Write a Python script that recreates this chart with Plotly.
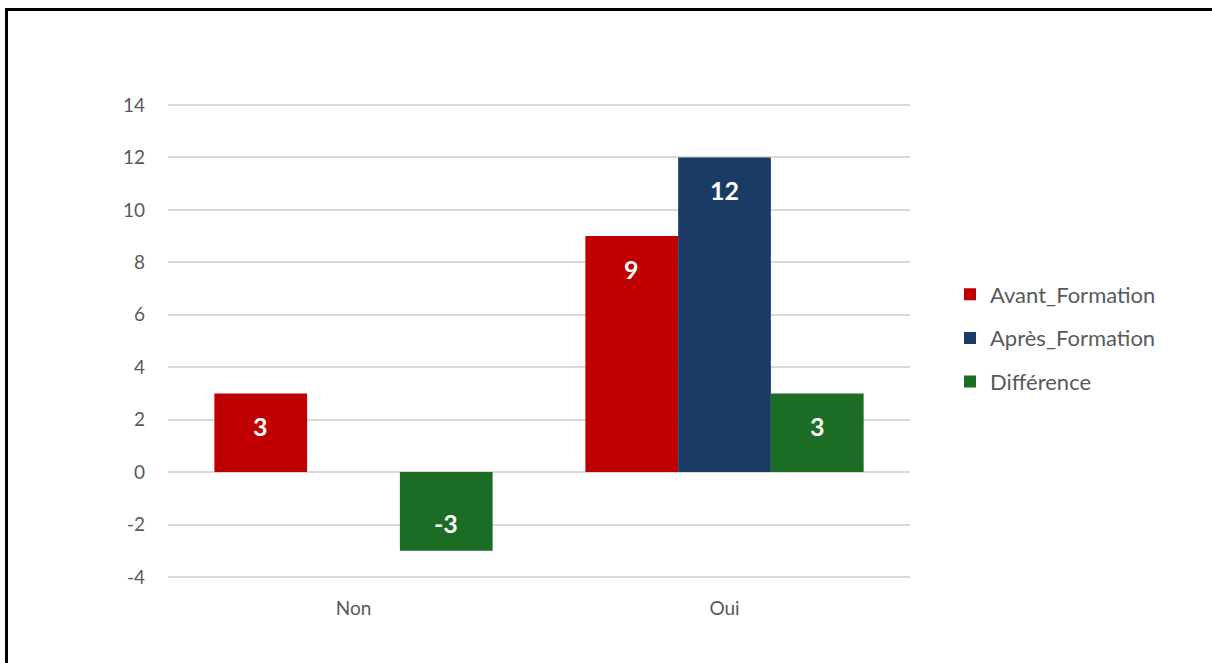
import plotly.graph_objects as go

categories = ["Non", "Oui"]
avant = [3, 9]
apres = [0, 12]
difference = [-3, 3]
y_ticks = [-4, -2, 0, 2, 4, 6, 8, 10, 12, 14]
y_tick_text = ["-4", "-2", "0", "2", "4", "6", "8", "10", "12", "14"]

W, H = 1212, 663
PAD = 2  # extra pixels above/below so the end gridlines are drawn
L, R, T, B = 168, 302, 105 - PAD, 86 - PAD
pw, ph = W - L - R, H - T - B
unit_px = (ph - 2 * PAD) / (y_ticks[-1] - y_ticks[0])
extra = PAD / unit_px


def px_x(p):
    return (p - L) / pw


def px_y(p):
    return (H - B - p) / ph


fig = go.Figure()
series = [
    ("Avant_Formation", avant, "#c00000"),
    ("Après_Formation", apres, "#1a3c64"),
    ("Différence", difference, "#1b6c25"),
]
bar_px = pw / len(categories) * 0.75 / len(series)
annotations = []
for i, (name, vals, col) in enumerate(series):
    fig.add_trace(go.Bar(
        x=categories, y=vals, name=name,
        marker=dict(color=col, line=dict(width=0)),
        legendgroup=f"g{i}",
    ))
    for c, v in zip(categories, vals):
        if v == 0:
            continue
        annotations.append(dict(
            x=c, y=v, xref="x", yref="y", text=f"<b>{v}</b>", showarrow=False,
            xshift=(i - 1) * bar_px, yshift=-33 if v > 0 else 28,
            font=dict(color="white", size=25, family="Lato, 'Open Sans', sans-serif"),
        ))

fig.update_layout(
    width=W, height=H,
    margin=dict(l=L, r=R, t=T, b=B),
    paper_bgcolor="white", plot_bgcolor="white",
    barmode="group", bargap=0.25, bargroupgap=0,
    font=dict(family="Lato, 'Open Sans', sans-serif", color="#595959", size=19),
    legend=dict(x=px_x(950), xanchor="left", y=px_y(338), yanchor="middle",
                font=dict(size=22, color="#595959"), tracegroupgap=12,
                bgcolor="rgba(0,0,0,0)"),
    xaxis=dict(showgrid=False, showline=False, ticks="", tickfont=dict(size=19),
               ticklabelstandoff=16),
    yaxis=dict(range=[y_ticks[0] - extra, y_ticks[-1] + extra], tickvals=y_ticks,
               ticktext=y_tick_text, showgrid=True,
               gridcolor="#d9d9d9", gridwidth=1.5, zeroline=False, showline=False,
               ticks="", tickfont=dict(size=19), ticklabelstandoff=22),
    annotations=annotations,
    shapes=[
        dict(type="line", xref="paper", yref="paper", x0=px_x(6.5), x1=px_x(1220),
             y0=px_y(9.5), y1=px_y(9.5), line=dict(color="black", width=3)),
        dict(type="line", xref="paper", yref="paper", x0=px_x(6.5), x1=px_x(6.5),
             y0=px_y(8), y1=px_y(670), line=dict(color="black", width=3)),
    ],
)

fig.write_html("out.html", config={"displayModeBar": False},
               post_script="document.body.style.margin='0';")
